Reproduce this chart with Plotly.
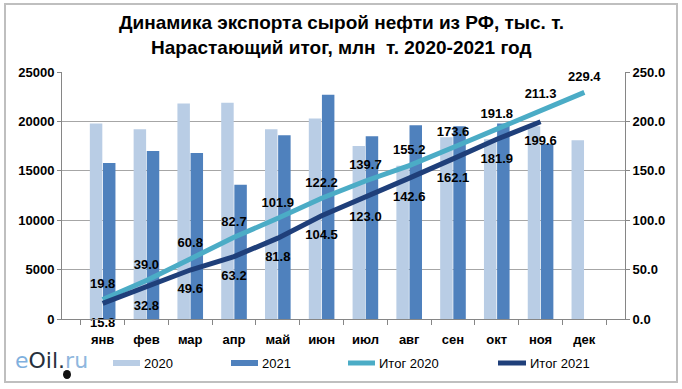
import plotly.graph_objects as go

months = ["янв", "фев", "мар", "апр", "май", "июн", "июл", "авг", "сен", "окт", "ноя", "дек"]
exp_2020 = [19800, 19200, 21800, 21900, 19200, 20300, 17500, 15500, 18400, 18200, 19500, 18100]
exp_2021 = [15800, 17000, 16800, 13600, 18600, 22700, 18500, 19600, 19500, 19800, 17700, None]
cum_2020 = [19.8, 39.0, 60.8, 82.7, 101.9, 122.2, 139.7, 155.2, 173.6, 191.8, 211.3, 229.4]
cum_2021 = [15.8, 32.8, 49.6, 63.2, 81.8, 104.5, 123.0, 142.6, 162.1, 181.9, 199.6, None]
left_ticks = [0, 5000, 10000, 15000, 20000, 25000]
right_ticks = [0, 50, 100, 150, 200, 250]
title_lines = ["Динамика экспорта сырой нефти из РФ, тыс. т.",
               "Нарастающий итог, млн  т. 2020-2021 год"]

C_2020 = "#b9cde5"
C_2021 = "#4f81bd"
C_I2020 = "#4bacc6"
C_I2021 = "#1f3f7a"
FONT = "Liberation Sans"

fig = go.Figure()
fig.add_trace(go.Bar(x=months, y=exp_2020, name="2020", marker=dict(color=C_2020, line=dict(width=0))))
fig.add_trace(go.Bar(x=months, y=exp_2021, name="2021", marker=dict(color=C_2021, line=dict(width=0))))

fig.add_trace(go.Scatter(
    x=months, y=cum_2020, yaxis="y2", name="Итог 2020", mode="lines+markers+text",
    line=dict(color=C_I2020, width=5), marker=dict(size=12, color="rgba(0,0,0,0)"),
    text=[f"{v:.1f}" for v in cum_2020], textposition="top center",
    textfont=dict(family=FONT, size=13, color="#000000", weight="bold"), cliponaxis=False))
fig.add_trace(go.Scatter(
    x=months, y=cum_2021, yaxis="y2", name="Итог 2021", mode="lines+markers+text",
    line=dict(color=C_I2021, width=5), marker=dict(size=20, color="rgba(0,0,0,0)"),
    text=[f"{v:.1f}" if v is not None else "" for v in cum_2021], textposition="bottom center",
    textfont=dict(family=FONT, size=13, color="#000000", weight="bold"), cliponaxis=False))

fig.update_layout(
    width=682, height=389,
    margin=dict(l=62, r=57, t=72, b=70),
    paper_bgcolor="white", plot_bgcolor="white",
    showlegend=False,
    barmode="group", bargap=0.4, bargroupgap=0.05,
    xaxis=dict(
        tickfont=dict(family=FONT, size=13, color="#000000", weight="bold"),
        showline=True, linecolor="#868686", linewidth=1,
        ticks="outside", tickson="boundaries", ticklen=5, tickcolor="#868686",
        ticklabelstandoff=8, showgrid=False),
    yaxis=dict(
        range=[0, 25000], tickvals=left_ticks, ticktext=[str(v) for v in left_ticks],
        tickfont=dict(family=FONT, size=13, color="#000000", weight="bold"),
        showline=True, linecolor="#868686", linewidth=1,
        ticks="outside", ticklen=4, tickcolor="#868686",
        showgrid=True, gridcolor="#a6a6a6", gridwidth=1, zeroline=False),
    yaxis2=dict(
        range=[0, 250], tickvals=right_ticks, ticktext=[f"{v:.1f}" for v in right_ticks],
        overlaying="y", side="right",
        tickfont=dict(family=FONT, size=13, color="#000000", weight="bold"),
        showline=True, linecolor="#868686", linewidth=1,
        ticks="outside", ticklen=4, tickcolor="#868686",
        showgrid=False, zeroline=False),
)

# manual legend / frame / title (pixel -> paper coordinates)
W, H, L, T, B = 682, 389, 62, 72, 70
pw, ph = W - L - 57, H - T - B
def px(x):
    return (x - L) / pw
def py(y):
    return (H - B - y) / ph

shapes = [
    dict(type="rect", xref="paper", yref="paper", x0=px(5), x1=px(677), y0=py(382), y1=py(4),
         line=dict(color="#bfbfbf", width=2), fillcolor="rgba(0,0,0,0)", layer="below"),
    dict(type="rect", xref="paper", yref="paper", x0=px(113), x1=px(140), y0=py(366), y1=py(360),
         fillcolor=C_2020, line=dict(width=0)),
    dict(type="rect", xref="paper", yref="paper", x0=px(231), x1=px(258), y0=py(366), y1=py(360),
         fillcolor=C_2021, line=dict(width=0)),
    dict(type="line", xref="paper", yref="paper", x0=px(348), x1=px(375), y0=py(363), y1=py(363),
         line=dict(color=C_I2020, width=5)),
    dict(type="line", xref="paper", yref="paper", x0=px(498), x1=px(526), y0=py(363), y1=py(363),
         line=dict(color=C_I2021, width=5)),
    dict(type="circle", xref="paper", yref="paper", x0=px(63), x1=px(71), y0=py(379), y1=py(370),
         fillcolor="#111111", line=dict(width=0)),
]
annotations = []
for line_text, ypos in zip(title_lines, [22, 47]):
    annotations.append(dict(text=line_text, xref="paper", yref="paper", x=px(341), y=py(ypos),
                            xanchor="center", yanchor="middle", showarrow=False,
                            font=dict(family=FONT, size=19, color="#000000", weight="bold")))
for label, xpos in [("2020", 142), ("2021", 260), ("Итог 2020", 377), ("Итог 2021", 528)]:
    annotations.append(dict(text=label, xref="paper", yref="paper", x=px(xpos), y=py(363),
                            xanchor="left", yanchor="middle", showarrow=False,
                            font=dict(family=FONT, size=13, color="#000000")))
annotations.append(dict(
    text="<span style='color:#7fb0de'>e</span><span style='color:#26303c'>Oil</span><span style='color:#26303c'>.</span><span style='color:#8fb7de'>ru</span>",
    xref="paper", yref="paper", x=px(13), y=py(360), xanchor="left", yanchor="middle", showarrow=False,
    font=dict(family="DejaVu Sans", size=22)))
fig.update_layout(shapes=shapes, annotations=annotations)

fig.write_html("out.html", config={"displayModeBar": False},
               post_script="document.body.style.margin='0';document.body.style.overflow='hidden';")
